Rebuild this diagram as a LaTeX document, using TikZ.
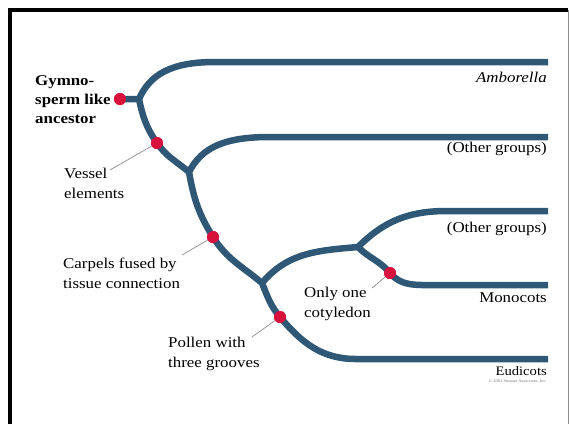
\documentclass[tikz,border=0pt]{standalone}
\usepackage{fontspec}
\setmainfont{Liberation Serif}[FakeStretch=1.13]
\usetikzlibrary{calc}
\definecolor{branchblue}{HTML}{2F5877}
\definecolor{traitred}{HTML}{D8123C}
\tikzset{
    branch/.style={draw=branchblue,line width=6.5bp},
    trait/.style={circle,fill=traitred,inner sep=0pt,minimum size=12bp},
    callout/.style={draw=black!45,line width=0.7bp},
    lbl/.style={inner sep=0pt,anchor=base west,align=left,font=\fontsize{15}{19.5}\selectfont},
    taxon/.style={inner sep=0pt,anchor=base east,font=\fontsize{15}{19.5}\selectfont},
  }

\begin{document}
\begin{tikzpicture}[x=1bp,y=-1bp]
				  \useasboundingbox (0,0) rectangle (569,424);
				  %frame
				  \draw[line width=3.4bp] (10,424) -- (10,10) -- (568,10);
				  \draw[black!45,line width=1bp] (568,10) -- (568,424);
				  %junctions
				  \coordinate (root) at (139,99);
				  \coordinate (J1) at (189,172);
				  \coordinate (J2) at (262,283);
				  \coordinate (J3) at (358,247);
				  %tips
				  \coordinate (Amb) at (548,62);
				  \coordinate (Oth1) at (548,137);
				  \coordinate (Oth2) at (548,211);
				  \coordinate (Mono) at (548,285);
				  \coordinate (Eudi) at (548,359);
				  %traits
				  \node[trait] (Anc) at (120,99) {};
				  \node[trait] (Vessel) at (157,143) {};
				  \node[trait] (Carpel) at (213,237) {};
				  \node[trait] (Pollen) at (280,317) {};
				  \node[trait] (Coty) at (390,273) {};
				  %branches
				  \draw[branch] (Anc.center) -- (root) .. controls (150,74) and (172,62) .. (215,62) -- (Amb);
				  \draw[branch] (root) to[out=-78,in=125] (Vessel.center) to[out=-55,in=140] (J1)
				        to[out=-80,in=122] (Carpel.center) to[out=-58,in=140] (J2)
				        to[out=-68,in=130] (Pollen.center) to[out=-50,in=180] (356,359) -- (Eudi);
				  \draw[branch] (J1) .. controls (202,147) and (225,137) .. (270,137) -- (Oth1);
				  \draw[branch] (J2) to[out=50,in=185] (J3) to[out=45,in=180] (447,211) -- (Oth2);
				  \draw[branch] (J3) to[out=-45,in=130] (Coty.center) to[out=-50,in=180] (432,285) -- (Mono);
				  \foreach \t in {Anc,Vessel,Carpel,Pollen,Coty}
				      \node[trait] at (\t) {};
				  %labels (anchored on the last line)
				  \node[lbl,font=\fontsize{15}{19}\selectfont\bfseries] (ancestor) at (35,123) {Gymno-\\sperm like\\ancestor};
				  \node[lbl] (vessellbl) at (64,198) {Vessel\\elements};
				  \node[lbl] (carpellbl) at (63,288) {Carpels fused by\\tissue connection};
				  \node[lbl] (pollenlbl) at (168,367) {Pollen with\\three grooves};
				  \node[lbl] (cotylbl) at (304,317) {Only one\\cotyledon};
				  \node[taxon,font=\fontsize{15}{19.5}\selectfont\itshape] (amblbl) at (547,82) {Amborella};
				  \node[taxon] (oth1lbl) at (547,152) {(Other groups)};
				  \node[taxon] (oth2lbl) at (547,232) {(Other groups)};
				  \node[taxon] (monolbl) at (547,302) {Monocots};
				  \node[taxon,font=\fontsize{13}{15}\selectfont] (eudilbl) at (547,375) {Eudicots};
				  \node[taxon,font=\fontsize{4}{5}\selectfont,text=black!55] (credit) at (547,382) {© 2001 Sinauer Associates, Inc.};
				  %callouts
				  \coordinate (vesselend) at (110,170);
				  \coordinate (carpelend) at (182,255);
				  \coordinate (pollenend) at (252,337);
				  \coordinate (cotyend) at (372,288);
				  \draw[callout] (vesselend) -- (Vessel);
				  \draw[callout] (carpelend) -- (Carpel);
				  \draw[callout] (pollenend) -- (Pollen);
				  \draw[callout] (cotyend) -- (Coty);
				  \end{tikzpicture}
\end{document}
